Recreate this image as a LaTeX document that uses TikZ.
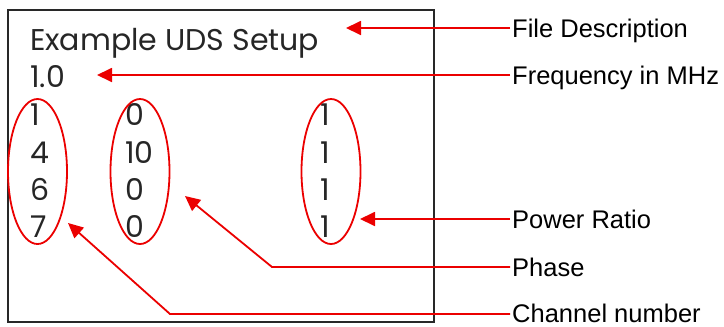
\documentclass[tikz,border=0pt]{standalone}
\usepackage{fontspec}
\setmainfont{Liberation Sans}
\newfontfamily\boxfont{Poppins}
\usetikzlibrary{arrows.meta,shapes.geometric}
\definecolor{arrowred}{RGB}{235,0,0}
\definecolor{boxgray}{RGB}{40,40,40}
\tikzset{
  boxtext/.style={anchor=base west,inner sep=0pt,font=\boxfont\fontsize{30}{35}\selectfont,text=black!85},
  label/.style={anchor=base west,inner sep=0pt,font=\fontsize{25.5}{30}\selectfont,text=black},
  ring/.style={ellipse,draw=arrowred,line width=1.8pt,inner sep=0pt,minimum width=59pt,minimum height=145pt},
  pointer/.style={draw=arrowred,line width=1.8pt,-{Triangle[length=15pt,width=14pt]}},
}
\begin{document}
\begin{tikzpicture}[x=1pt,y=-1pt]
\useasboundingbox (0,0) rectangle (724,327);
\draw[boxgray,line width=1.8pt] (8,10) rectangle (434,322);
\node[boxtext] (title) at (30,50) {Example UDS Setup};
\node[boxtext] (freq) at (30,87) {1.0};
\node[boxtext] (c1) at (30,125) {1};
\node[boxtext] (c4) at (30,163) {4};
\node[boxtext] (c6) at (30,200) {6};
\node[boxtext] (c7) at (30,237) {7};
\node[boxtext] (p1) at (125,125) {0};
\node[boxtext] (p2) at (125,163) {10};
\node[boxtext] (p3) at (125,200) {0};
\node[boxtext] (p4) at (125,237) {0};
\node[boxtext] (r1) at (320,125) {1};
\node[boxtext] (r2) at (320,163) {1};
\node[boxtext] (r3) at (320,200) {1};
\node[boxtext] (r4) at (320,237) {1};
\node[ring] (e1) at (37.5,171.5) {};
\node[ring] (e2) at (140,171.5) {};
\node[ring] (e3) at (331,171.5) {};
\node[label] (lfile) at (512,37) {File Description};
\node[label] (lfreq) at (512,84) {Frequency in MHz};
\node[label] (lpow) at (512,228) {Power Ratio};
\node[label] (lphase) at (512,276) {Phase};
\node[label] (lchan) at (512,322) {Channel number};
\coordinate (sfile) at (510,28);
\coordinate (sfreq) at (510,75);
\coordinate (spow) at (510,219);
\coordinate (sphase) at (510,267);
\coordinate (schan) at (510,314);
\coordinate (tfile) at (346,28);
\coordinate (tfreq) at (97,75);
\coordinate (tpow) at (360,219);
\coordinate (kphase) at (272,267);
\coordinate (tphase) at (185,196);
\coordinate (kchan) at (170,314);
\coordinate (tchan) at (68,223);
\draw[pointer] (sfile) -- (tfile);
\draw[pointer] (sfreq) -- (tfreq);
\draw[pointer] (spow) -- (tpow);
\draw[pointer] (sphase) -- (kphase) -- (tphase);
\draw[pointer] (schan) -- (kchan) -- (tchan);
\end{tikzpicture}
\end{document}
